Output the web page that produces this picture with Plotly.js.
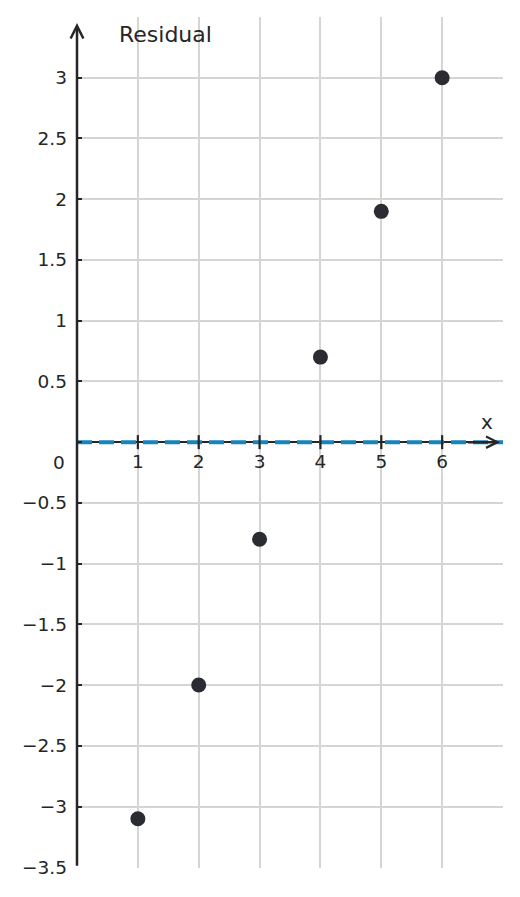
<!DOCTYPE html>
<html>
<head>
<meta charset="utf-8">
<script src="https://cdn.plot.ly/plotly-3.0.1.min.js"></script>
<style>html,body{margin:0;padding:0;background:#fff}#chart{width:520px;height:897px}</style>
</head>
<body>
<div id="chart"></div>
<script>
// Data
const xValues = [1, 2, 3, 4, 5, 6];
const residuals = [-3.1, -2.0, -0.8, 0.7, 1.9, 3.0];
const refLineX = [0, 7];
const refLineY = [0, 0];
const xTickVals = [1, 2, 3, 4, 5, 6];
const xTickText = ["1", "2", "3", "4", "5", "6"];
const yTickVals = [-3.5, -3, -2.5, -2, -1.5, -1, -0.5, 0, 0.5, 1, 1.5, 2, 2.5, 3];
const yTickText = ["\u22123.5", "\u22123", "\u22122.5", "\u22122", "\u22121.5", "\u22121", "\u22120.5", "", "0.5", "1", "1.5", "2", "2.5", "3"];
const xRange = [0, 7];
const yRange = [-3.506, 3.5];

const ink = "#262626";
const font = "DejaVu Sans";

const traces = [
  {
    x: refLineX, y: refLineY, mode: "lines", hoverinfo: "skip",
    line: {color: "#1784bc", width: 4, dash: "15px,7px"}
  },
  {
    x: xTickVals, y: xTickVals.map(() => 0), mode: "markers", hoverinfo: "skip",
    marker: {symbol: "line-ns", size: 10, line: {color: ink, width: 2.2}}
  },
  {
    x: xValues, y: residuals, mode: "markers",
    marker: {color: "#2b2b33", size: 15}
  }
];

const layout = {
  width: 520, height: 897,
  margin: {l: 77, r: 17, t: 17, b: 29},
  paper_bgcolor: "#fff", plot_bgcolor: "#fff",
  showlegend: false,
  font: {family: font, color: ink, size: 18.5},
  xaxis: {
    range: xRange, tickvals: xTickVals, ticktext: xTickText,
    showgrid: true, gridcolor: "#d5d5d5", gridwidth: 2,
    zeroline: false, showline: false, ticks: "",
    anchor: "free", position: 0.5,
    ticklabelstandoff: 6,
    tickfont: {family: font, size: 18.5, color: ink}
  },
  yaxis: {
    range: yRange, tickvals: yTickVals, ticktext: yTickText,
    showgrid: true, gridcolor: "#d5d5d5", gridwidth: 2,
    zeroline: true, zerolinecolor: ink, zerolinewidth: 2.5,
    showline: false, ticks: "inside", ticklen: 5, tickwidth: 2, tickcolor: ink,
    ticklabelstandoff: 9,
    tickfont: {family: font, size: 18.5, color: ink}
  },
  annotations: [
    // y axis arrow
    {x: 0, y: 3.45, ax: 0, ay: -3.5, xref: "x", yref: "y", axref: "x", ayref: "y",
     text: "", showarrow: true, arrowhead: 5, arrowsize: 1, arrowwidth: 2.5, arrowcolor: ink},
    // x axis arrow
    {x: 6.95, y: 0, ax: 6.4, ay: 0, xref: "x", yref: "y", axref: "x", ayref: "y",
     text: "", showarrow: true, arrowhead: 5, arrowsize: 0.9, arrowwidth: 2.5, arrowcolor: ink},
    {x: 0, y: 0, xref: "x", yref: "y", text: "0", showarrow: false,
     xanchor: "right", yanchor: "middle", xshift: -10, yshift: -20,
     font: {family: font, size: 18.5, color: ink}},
    {x: 6.74, y: 0.165, xref: "x", yref: "y", text: "x", showarrow: false,
     xanchor: "center", yanchor: "middle",
     font: {family: font, size: 20, color: ink}},
    {x: 1.45, y: 3.36, xref: "x", yref: "y", text: "Residual", showarrow: false,
     xanchor: "center", yanchor: "middle",
     font: {family: font, size: 22, color: ink}}
  ]
};

Plotly.newPlot("chart", traces, layout, {displayModeBar: false, staticPlot: true});
</script>
</body>
</html>
